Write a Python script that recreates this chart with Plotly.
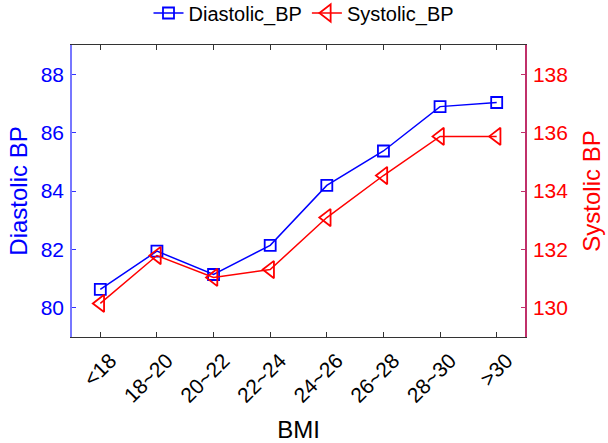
import plotly.graph_objects as go

categories = ["<18", "18~20", "20~22", "22~24", "24~26", "26~28", "28~30", ">30"]
diastolic_bp = [80.63, 81.94, 81.14, 82.14, 84.19, 85.37, 86.89, 87.03]
systolic_bp = [130.15, 131.79, 131.04, 131.31, 133.09, 134.53, 135.87, 135.87]

FONT = "Liberation Sans, Arial, sans-serif"
W, H = 608, 443

fig = go.Figure()
fig.add_trace(go.Scatter(
    x=categories, y=diastolic_bp, name="Diastolic_BP", mode="lines+markers",
    line=dict(color="#0000ff", width=1.5),
    marker=dict(symbol="square-open", size=11, color="#0000ff", line=dict(width=1.8)),
    yaxis="y",
))
fig.add_trace(go.Scatter(
    x=categories, y=systolic_bp, name="Systolic_BP", mode="lines+markers",
    line=dict(color="#ff0000", width=1.5),
    marker=dict(symbol="triangle-left-open", size=15, color="#ff0000", line=dict(width=1.8)),
    yaxis="y2",
))

fig.update_layout(
    width=W, height=H,
    margin=dict(l=72, r=83, t=45, b=106, autoexpand=False),
    paper_bgcolor="white", plot_bgcolor="white",
    font=dict(family=FONT, size=20, color="black"),
    showlegend=True,
    legend=dict(orientation="h", xref="container", yref="container",
                x=0.5, xanchor="center", y=1 - 13 / H, yanchor="middle",
                font=dict(size=20, color="black"), itemwidth=30,
                bgcolor="rgba(0,0,0,0)"),
    xaxis=dict(
        type="category", range=[-0.5, 7.5], automargin=False,
        showline=True, linecolor="#333333", linewidth=1.2, mirror="ticks",
        ticks="inside", ticklen=5, tickcolor="#333333",
        tickangle=-45, tickfont=dict(size=21, color="black"),
        ticklabelstandoff=2, ticklabelshift=10,
        showgrid=False, zeroline=False,
        title=dict(text="BMI", font=dict(size=24, color="black"), standoff=16),
    ),
    yaxis=dict(
        range=[79, 89], tickvals=[80, 82, 84, 86, 88], automargin=False,
        showline=True, linecolor="#7777ff", linewidth=1.5,
        ticks="inside", ticklen=4, tickcolor="#3333ff",
        tickfont=dict(size=21, color="#0000ff"), ticklabelstandoff=2,
        showgrid=False, zeroline=False,
        title=dict(text="Diastolic BP", font=dict(size=24, color="#0000ff"), standoff=6),
    ),
    yaxis2=dict(
        range=[129, 139], tickvals=[130, 132, 134, 136, 138], automargin=False,
        overlaying="y", side="right",
        showline=True, linecolor="#c0306a", linewidth=1.5,
        ticks="inside", ticklen=4, tickcolor="#c0306a",
        tickfont=dict(size=21, color="#ff0000"), ticklabelstandoff=2,
        showgrid=False, zeroline=False,
        title=dict(text="Systolic BP", font=dict(size=24, color="#ff0000"), standoff=16),
    ),
)

fig.write_html("out.html",
               config={"displayModeBar": False},
               post_script="document.body.style.margin='0';document.body.style.overflow='hidden';")
